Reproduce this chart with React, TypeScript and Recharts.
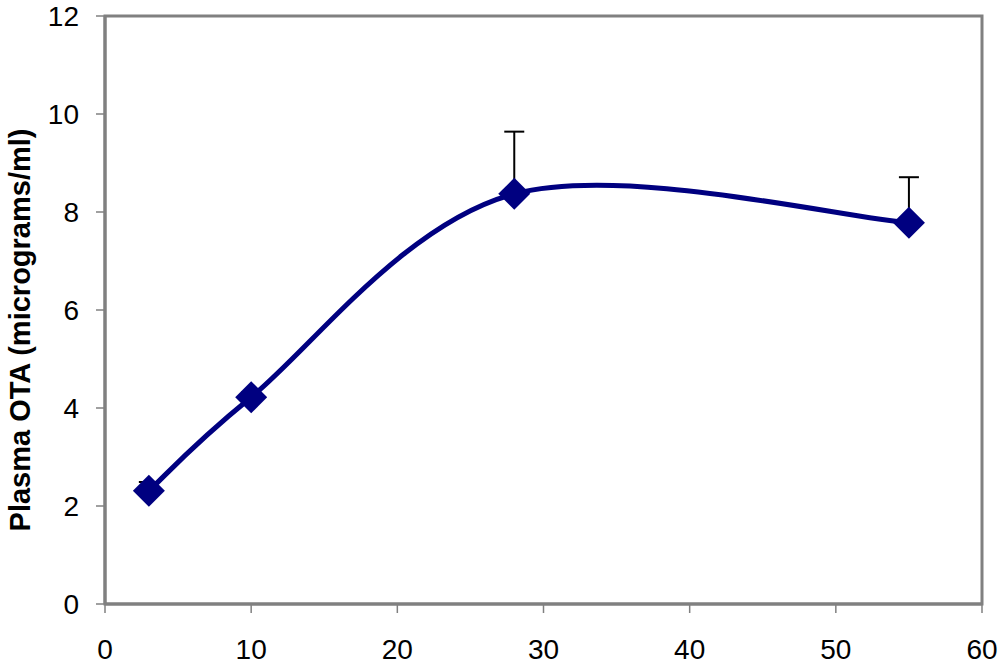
import * as React from 'react';
import { LineChart, Line, XAxis, YAxis, ErrorBar, ReferenceArea } from 'recharts';

// hours after dosing vs plasma OTA
const hours = [3, 10, 28, 55];
const plasmaOta = [2.31, 4.22, 8.37, 7.78];
const plusError = [0.18, 0.1, 1.27, 0.93];

const xTicks = [0, 10, 20, 30, 40, 50, 60];
const yTicks = [0, 2, 4, 6, 8, 10, 12];

const data = hours.map((h, i) => ({
  hours: h,
  ota: plasmaOta[i],
  err: [0, plusError[i]],
}));

const NAVY = '#000080';
const GREY = '#808080';
const FONT = '"Liberation Sans", Arial, sans-serif';

// Excel-style smoothed line (Catmull-Rom with end points repeated)
const excelSmooth = (context: any) => {
  let pts: number[][] = [];
  return {
    areaStart() {},
    areaEnd() {},
    lineStart() {
      pts = [];
    },
    point(x: number, y: number) {
      pts.push([+x, +y]);
    },
    lineEnd() {
      if (!pts.length) return;
      context.moveTo(pts[0][0], pts[0][1]);
      for (let i = 0; i < pts.length - 1; i++) {
        const p0 = pts[i - 1] || pts[i];
        const p1 = pts[i];
        const p2 = pts[i + 1];
        const p3 = pts[i + 2] || p2;
        context.bezierCurveTo(
          p1[0] + (p2[0] - p0[0]) / 6,
          p1[1] + (p2[1] - p0[1]) / 6,
          p2[0] - (p3[0] - p1[0]) / 6,
          p2[1] - (p3[1] - p1[1]) / 6,
          p2[0],
          p2[1]
        );
      }
    },
  };
};

const Diamond = (props: any) => {
  const { cx, cy, index } = props;
  if (cx == null || cy == null) return null;
  const r = 16;
  return (
    <polygon
      key={`d-${index}`}
      points={`${cx},${cy - r} ${cx + r},${cy} ${cx},${cy + r} ${cx - r},${cy}`}
      fill={NAVY}
    />
  );
};

const YLabel = () => (
  <text
    x={20}
    y={330}
    transform="rotate(-90 20 330)"
    textAnchor="middle"
    dominantBaseline="central"
    fontFamily={FONT}
    fontWeight="bold"
    fontSize={29}
    fill="#000"
  >
    Plasma OTA (micrograms/ml)
  </text>
);

const App: React.FC = () => {
  return (
    <div style={{ position: 'absolute', left: 0, top: 0, width: 1000, height: 667, background: '#fff' }}>
      <LineChart width={1000} height={667} data={data} margin={{ top: 16, right: 18, bottom: 0, left: 0 }}>
        <XAxis
          dataKey="hours"
          type="number"
          domain={[0, 60]}
          ticks={xTicks}
          height={63}
          axisLine={{ stroke: GREY, strokeWidth: 3 }}
          tickLine={{ stroke: GREY, strokeWidth: 1.5 }}
          tickSize={9}
          tickMargin={26}
          tick={{ fill: '#000', fontSize: 28, fontFamily: FONT }}
        />
        <YAxis
          type="number"
          domain={[0, 12]}
          ticks={yTicks}
          width={105}
          axisLine={{ stroke: GREY, strokeWidth: 3 }}
          tickLine={{ stroke: GREY, strokeWidth: 1.5 }}
          tickSize={9}
          tickMargin={17}
          tick={{ fill: '#000', fontSize: 28, fontFamily: FONT }}
          label={{ content: () => <YLabel /> }}
        />
        <ReferenceArea
          x1={0}
          x2={60}
          y1={0}
          y2={12}
          fill="none"
          stroke={GREY}
          strokeWidth={3}
          ifOverflow="visible"
        />
        <Line
          dataKey="ota"
          type={excelSmooth as any}
          stroke={NAVY}
          strokeWidth={5}
          dot={<Diamond />}
          activeDot={false}
          isAnimationActive={false}
        >
          <ErrorBar dataKey="err" direction="y" width={10} stroke="#000" strokeWidth={2} />
        </Line>
      </LineChart>
    </div>
  );
};

export default App;
